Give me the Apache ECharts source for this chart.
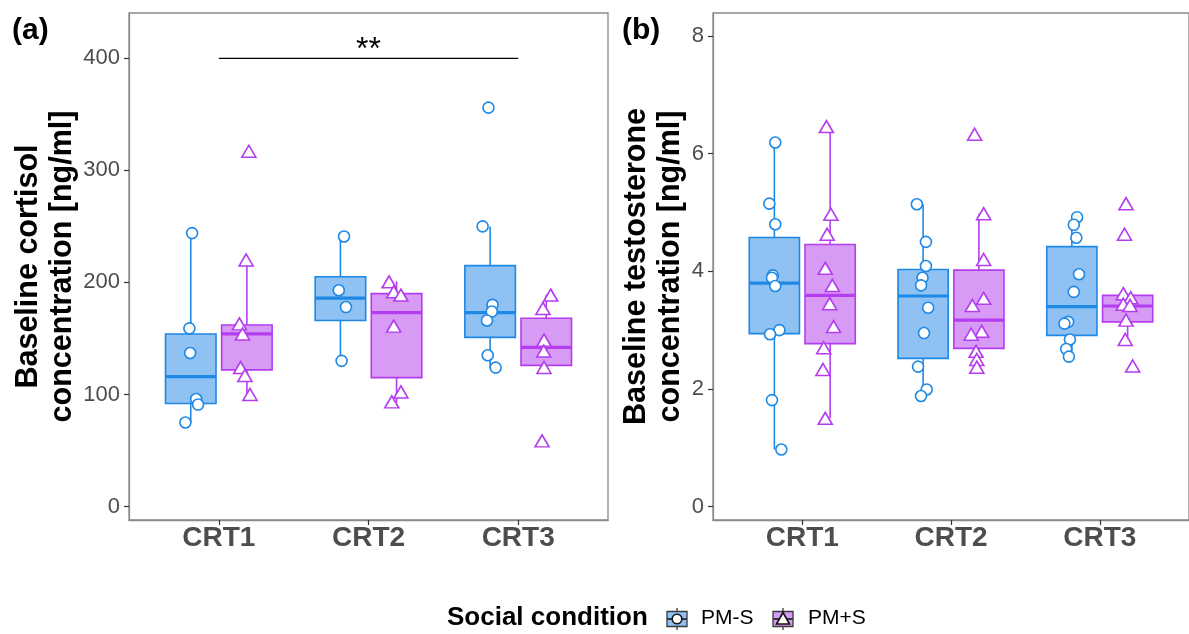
<!DOCTYPE html>
<html>
<head>
<meta charset="utf-8">
<script src="https://cdn.jsdelivr.net/npm/echarts@6/dist/echarts.min.js"></script>
<style>
  html, body { margin: 0; padding: 0; background: #ffffff; }
  #chart { width: 1189px; height: 634px; }
</style>
</head>
<body>
<div id="chart"></div>
<script>
// ---- data ----------------------------------------------------------------
const categories = ['CRT1', 'CRT2', 'CRT3'];
const groupNames = ['PM-S', 'PM+S'];

// box summaries per category: [lower whisker, Q1, median, Q3, upper whisker]
const cortisolBoxPMS  = [[75, 92, 116, 154, 244], [130, 166, 186, 205, 241], [124, 151, 173, 215, 250]];
const cortisolBoxPMpS = [[100, 122, 154, 162, 220], [93, 115, 173, 190, 201], [124, 126, 142, 168, 189]];

// individual cortisol values [ng/ml]
const cortisolPMS  = [[244, 159, 137, 96, 91, 75], [241, 193, 178, 130], [356, 250, 180, 174, 166, 135, 124]];
const cortisolPMpS = [[317, 220, 163, 154, 124, 117, 100], [200.5, 191.6, 188.7, 161, 102.3, 93.4], [188.7, 176.8, 148.5, 138.7, 124.1, 58.6]];

// horizontal jitter of the points (category units)
const cortisolJitterPMS  = [[0.009, -0.009, -0.004, 0.036, 0.049, -0.036], [0.024, -0.011, 0.037, 0.008], [-0.011, -0.05, 0.016, 0.011, -0.021, -0.016, 0.037]];
const cortisolJitterPMpS = [[0.013, -0.005, -0.05, -0.029, -0.042, -0.013, 0.021], [-0.05, -0.019, 0.029, -0.019, 0.029, -0.032], [0.03, -0.022, -0.015, -0.017, -0.015, -0.028]];

const testoBoxPMS  = [[0.97, 2.94, 3.80, 4.575, 6.19], [1.88, 2.52, 3.58, 4.03, 5.14], [2.55, 2.91, 3.40, 4.42, 4.92]];
const testoBoxPMpS = [[1.50, 2.77, 3.59, 4.456, 6.457], [2.37, 2.69, 3.17, 4.02, 4.98], [2.84, 3.14, 3.41, 3.59, 3.62]];

const testoPMS  = [[6.19, 5.15, 4.80, 3.93, 3.89, 3.75, 3.00, 2.93, 1.81, 0.97],
                   [5.14, 4.50, 4.09, 3.89, 3.76, 3.38, 2.95, 2.38, 1.99, 1.88],
                   [4.92, 4.79, 4.57, 3.95, 3.65, 3.14, 3.11, 2.84, 2.68, 2.55]];
const testoPMpS = [[6.46, 4.97, 4.63, 4.05, 3.76, 3.45, 3.06, 2.70, 2.33, 1.50],
                   [6.33, 4.98, 4.20, 3.54, 3.42, 2.98, 2.93, 2.64, 2.50, 2.37],
                   [5.15, 4.63, 3.62, 3.55, 3.44, 3.42, 3.17, 2.84, 2.39]];
const testoJitterPMS  = [[0.006, -0.034, 0.006, -0.011, -0.016, 0.006, 0.034, -0.029, -0.016, 0.047],
                         [-0.042, 0.019, 0.019, -0.004, -0.014, 0.034, 0.006, -0.034, 0.024, -0.014],
                         [0.035, 0.013, 0.03, 0.048, 0.013, -0.025, -0.05, -0.013, -0.038, -0.02]];
const testoJitterPMpS = [[-0.025, 0.005, -0.02, -0.033, 0.015, -0.003, 0.023, -0.043, -0.048, -0.033],
                         [-0.029, 0.032, 0.032, 0.032, -0.044, 0.019, -0.052, -0.019, -0.014, -0.014],
                         [-0.011, -0.021, -0.029, 0.021, -0.029, 0.016, -0.011, -0.016, 0.034]];

const cortisolTicks = [0, 100, 200, 300, 400];
const testoTicks = [0, 2, 4, 6, 8];

// significance bracket CRT1 vs CRT3 in panel (a)
const signifFrom = 1, signifTo = 3, signifLevel = 400, signifLabel = '**';

// ---- styling ---------------------------------------------------------------
const FONT = '"Liberation Sans", Arial, Helvetica, sans-serif';
const BLUE = '#1E88E5', BLUE_FILL = '#8FC1F2';
const PURPLE = '#B43DEF', PURPLE_FILL = '#D89BF5';
const DODGE = 0.1875, BOX_W = 0.3375;
const FRAME = '#8a8a8a', TICK_TXT = '#4d4d4d';

function boxData(stats, offset) {
  return stats.map((s, i) => [i + 1 + offset].concat(s));
}
function pointData(values, jitter, offset) {
  const out = [];
  values.forEach((arr, i) => arr.forEach((v, j) => out.push([i + 1 + offset + jitter[i][j], v])));
  return out;
}

function boxRenderer(stroke, fill) {
  return function (params, api) {
    const x = api.value(0);
    const lo = api.coord([x, api.value(1)]);
    const q1 = api.coord([x, api.value(2)]);
    const md = api.coord([x, api.value(3)]);
    const q3 = api.coord([x, api.value(4)]);
    const hi = api.coord([x, api.value(5)]);
    const w = api.size([BOX_W, 0])[0];
    const cx = lo[0];
    return {
      type: 'group',
      children: [
        { type: 'line', shape: { x1: cx, y1: q3[1], x2: cx, y2: hi[1] }, style: { stroke: stroke, lineWidth: 1.6 } },
        { type: 'line', shape: { x1: cx, y1: q1[1], x2: cx, y2: lo[1] }, style: { stroke: stroke, lineWidth: 1.6 } },
        { type: 'rect', shape: { x: cx - w / 2, y: q3[1], width: w, height: q1[1] - q3[1] },
          style: { fill: fill, stroke: stroke, lineWidth: 1.6 } },
        { type: 'line', shape: { x1: cx - w / 2, y1: md[1], x2: cx + w / 2, y2: md[1] },
          style: { stroke: stroke, lineWidth: 3.2 } }
      ]
    };
  };
}

function boxSeries(idx, stats, offset, stroke, fill, name) {
  return {
    type: 'custom', name: name, xAxisIndex: idx, yAxisIndex: idx,
    renderItem: boxRenderer(stroke, fill),
    encode: { x: 0, y: [1, 2, 3, 4, 5] },
    data: boxData(stats, offset), z: 2, silent: true
  };
}
function pointSeries(idx, values, jitter, offset, symbol, size, stroke, name) {
  return {
    type: 'scatter', name: name, xAxisIndex: idx, yAxisIndex: idx,
    symbol: symbol, symbolSize: size,
    itemStyle: { color: '#ffffff', borderColor: stroke, borderWidth: 1.6, opacity: 1 },
    data: pointData(values, jitter, offset), z: 3, silent: true
  };
}

function xAxisFor(idx) {
  return {
    type: 'value', gridIndex: idx, min: 0.4, max: 3.6,
    axisLine: { show: true, onZero: false, lineStyle: { color: FRAME, width: 1.3 } },
    axisTick: { show: true, length: 5, customValues: [1, 2, 3], lineStyle: { color: '#333333', width: 1.2 } },
    axisLabel: { customValues: [1, 2, 3], formatter: v => categories[Math.round(v) - 1],
      fontFamily: FONT, fontSize: 28, fontWeight: 'bold', color: TICK_TXT, margin: 4 },
    splitLine: { show: false }
  };
}
function yAxisFor(idx, min, max, ticks, name, gap) {
  return {
    type: 'value', gridIndex: idx, min: min, max: max,
    name: name, nameLocation: 'middle', nameRotate: 90, nameGap: gap,
    nameTextStyle: { fontFamily: FONT, fontSize: 30.5, fontWeight: 'bold', color: '#000000', lineHeight: 34 },
    axisLine: { show: true, onZero: false, lineStyle: { color: FRAME, width: 1.3 } },
    axisTick: { show: true, length: 5, customValues: ticks, lineStyle: { color: '#333333', width: 1.2 } },
    axisLabel: { customValues: ticks, fontFamily: FONT, fontSize: 22, color: TICK_TXT, margin: 9 },
    splitLine: { show: false }
  };
}

const chart = echarts.init(document.getElementById('chart'), null, { renderer: 'canvas' });

// legend glyphs: small box-and-whisker with the point marker on top
const legendY = 619;
const KEY_INK = '#3a3a3a';
function legendKey(x, fill, marker) {
  const w = 20, h = 15, cx = x + w / 2;
  const kids = [
    { type: 'line', shape: { x1: cx, y1: legendY - 11, x2: cx, y2: legendY - h / 2 }, style: { stroke: KEY_INK, lineWidth: 1.3 } },
    { type: 'line', shape: { x1: cx, y1: legendY + h / 2, x2: cx, y2: legendY + 11 }, style: { stroke: KEY_INK, lineWidth: 1.3 } },
    { type: 'rect', shape: { x: x, y: legendY - h / 2, width: w, height: h }, style: { fill: fill, stroke: KEY_INK, lineWidth: 1.3 } },
    { type: 'line', shape: { x1: x, y1: legendY, x2: x + w, y2: legendY }, style: { stroke: KEY_INK, lineWidth: 2 } }
  ];
  if (marker === 'circle') {
    kids.push({ type: 'circle', shape: { cx: cx, cy: legendY, r: 4.8 }, style: { fill: '#ffffff', stroke: '#111111', lineWidth: 1.6 } });
  } else {
    kids.push({ type: 'polygon', shape: { points: [[cx, legendY - 6.5], [cx + 6.5, legendY + 5], [cx - 6.5, legendY + 5]] },
      style: { fill: '#ffffff', stroke: '#111111', lineWidth: 1.6 } });
  }
  return kids;
}

const option = {
  backgroundColor: '#ffffff',
  animation: false,
  title: [
    { text: '(a)', left: 7, top: 11, textStyle: { fontFamily: FONT, fontSize: 30, fontWeight: 'bold', color: '#000' } },
    { text: '(b)', left: 617, top: 11, textStyle: { fontFamily: FONT, fontSize: 30, fontWeight: 'bold', color: '#000' } }
  ],
  grid: [
    { left: 129, top: 13, width: 479, height: 507, show: true, borderColor: FRAME, borderWidth: 1.3, backgroundColor: 'transparent' },
    { left: 713, top: 13, width: 479, height: 507, show: true, borderColor: FRAME, borderWidth: 1.3, backgroundColor: 'transparent' }
  ],
  xAxis: [xAxisFor(0), xAxisFor(1)],
  yAxis: [
    yAxisFor(0, -12, 440.4, cortisolTicks, 'Baseline cortisol\nconcentration [ng/ml]', 47),
    yAxisFor(1, -0.228, 8.391, testoTicks, 'Baseline testosterone\nconcentration [ng/ml]', 24)
  ],
  series: [
    boxSeries(0, cortisolBoxPMS, -DODGE, BLUE, BLUE_FILL, groupNames[0]),
    boxSeries(0, cortisolBoxPMpS, DODGE, PURPLE, PURPLE_FILL, groupNames[1]),
    pointSeries(0, cortisolPMS, cortisolJitterPMS, -DODGE, 'circle', 11, BLUE, groupNames[0]),
    pointSeries(0, cortisolPMpS, cortisolJitterPMpS, DODGE, 'triangle', [14, 12], PURPLE, groupNames[1]),
    boxSeries(1, testoBoxPMS, -DODGE, BLUE, BLUE_FILL, groupNames[0]),
    boxSeries(1, testoBoxPMpS, DODGE, PURPLE, PURPLE_FILL, groupNames[1]),
    pointSeries(1, testoPMS, testoJitterPMS, -DODGE, 'circle', 11, BLUE, groupNames[0]),
    pointSeries(1, testoPMpS, testoJitterPMpS, DODGE, 'triangle', [14, 12], PURPLE, groupNames[1]),
    {
      type: 'custom', xAxisIndex: 0, yAxisIndex: 0, silent: true, z: 4,
      data: [[signifFrom, signifTo, signifLevel]],
      renderItem: function (params, api) {
        const a = api.coord([api.value(0), api.value(2)]);
        const b = api.coord([api.value(1), api.value(2)]);
        return {
          type: 'group',
          children: [
            { type: 'line', shape: { x1: a[0], y1: a[1], x2: b[0], y2: b[1] }, style: { stroke: '#000000', lineWidth: 1.3 } },
            { type: 'text', x: (a[0] + b[0]) / 2, y: a[1] - 8,
              style: { text: signifLabel, fontFamily: FONT, fontSize: 32, fill: '#000000', align: 'center', verticalAlign: 'middle' } }
          ]
        };
      }
    }
  ],
  graphic: [
    { type: 'text', left: 447, top: legendY - 14,
      style: { text: 'Social condition', fontFamily: FONT, fontSize: 26, fontWeight: 'bold', fill: '#000000' } },
    { type: 'group', children: legendKey(667, BLUE_FILL, 'circle') },
    { type: 'text', left: 701, top: legendY - 11, style: { text: groupNames[0], fontFamily: FONT, fontSize: 21, fill: '#000000' } },
    { type: 'group', children: legendKey(773, PURPLE_FILL, 'triangle') },
    { type: 'text', left: 808, top: legendY - 11, style: { text: groupNames[1], fontFamily: FONT, fontSize: 21, fill: '#000000' } }
  ]
};
chart.setOption(option);
</script>
</body>
</html>
